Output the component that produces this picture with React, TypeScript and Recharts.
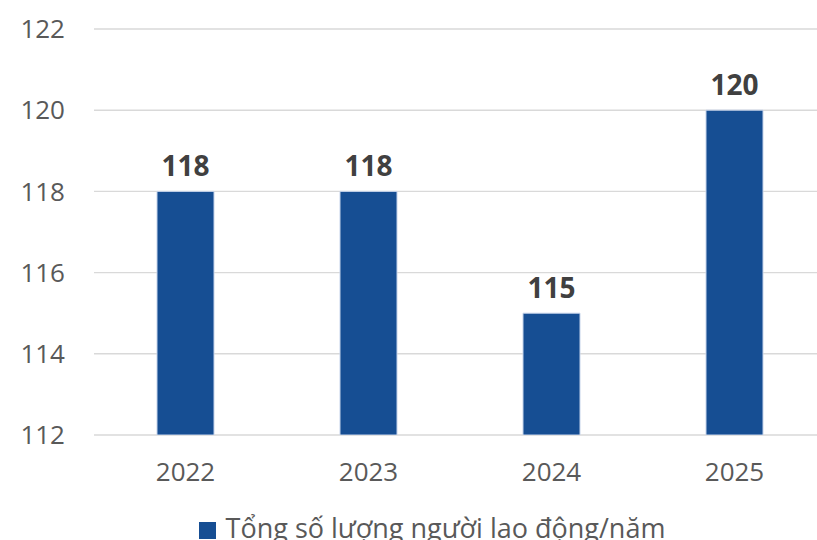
import { BarChart, Bar, XAxis, YAxis, CartesianGrid, Legend, LabelList } from 'recharts';

const years = ['2022', '2023', '2024', '2025'];
const workers = [118, 118, 115, 120];
const yTicks = [112, 114, 116, 118, 120, 122];
const seriesName = 'Tổng số lượng người lao động/năm';

const data = years.map((year, i) => ({ year, workers: workers[i] }));

const font = "'Open Sans', sans-serif";

export default function App() {
  return (
    <div style={{ position: 'absolute', top: 0, left: 0, width: 817, height: 540, overflow: 'hidden', background: '#fff' }}>
      <BarChart width={850} height={540} data={data} margin={{ top: 29, right: 24, left: 0, bottom: 0 }}>
        <CartesianGrid stroke="#d9d9d9" strokeWidth={1.4} vertical={false} />
        <XAxis
          dataKey="year"
          axisLine={false}
          tickLine={false}
          tickSize={0}
          tickMargin={28}
          height={68}
          tick={{ fill: '#595959', fontSize: 26, fontFamily: font }}
        />
        <YAxis
          domain={[112, 122]}
          ticks={yTicks}
          allowDataOverflow
          axisLine={false}
          tickLine={false}
          tickSize={0}
          tickMargin={29}
          width={94}
          tick={{ fill: '#595959', fontSize: 26, fontFamily: font }}
        />
        <Legend
          verticalAlign="bottom"
          iconType="square"
          iconSize={17}
          wrapperStyle={{ left: 24, bottom: -6, fontSize: 27, fontFamily: font, lineHeight: '37px' }}
          formatter={(v) => <span style={{ color: '#595959', marginLeft: 6 }}>{v}</span>}
        />
        <Bar dataKey="workers" name={seriesName} fill="#164e93" stroke="#c5d3ea" strokeWidth={1} barSize={57} isAnimationActive={false}>
          <LabelList dataKey="workers" position="top" offset={15} style={{ fill: '#404040', fontSize: 28, fontWeight: 700, fontFamily: font }} />
        </Bar>
      </BarChart>
    </div>
  );
}
